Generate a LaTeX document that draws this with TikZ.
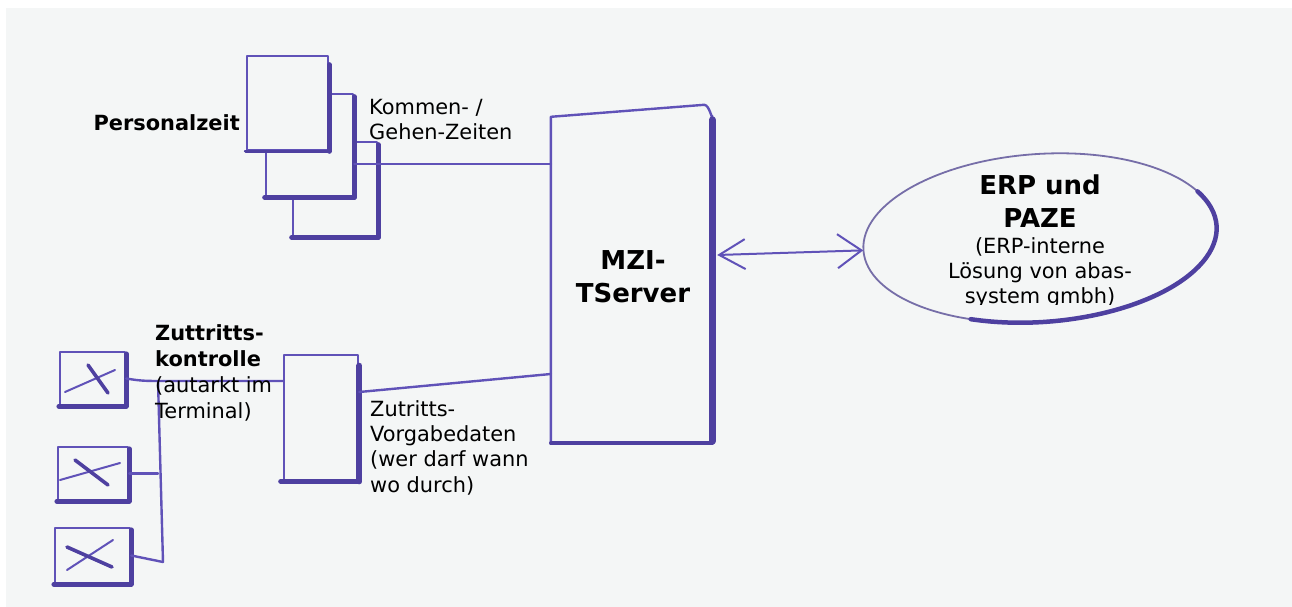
\documentclass[tikz,border=0pt]{standalone}
\usepackage{fontspec}
\setmainfont{DejaVu Sans}
\usetikzlibrary{arrows.meta,shapes.geometric}
\definecolor{paper}{RGB}{244,246,246}
\definecolor{pen}{RGB}{96,82,184}
\definecolor{pendark}{RGB}{78,64,160}
\definecolor{penlight}{RGB}{118,110,168}
\tikzset{
  thinpen/.style={draw=pen, line width=2.4pt, line cap=round, line join=round},
  thickpen/.style={draw=pendark, line width=5pt, line cap=round},
  boxnode/.style={draw=pen, line width=2.6pt, fill=paper, inner sep=0pt, line join=round},
  lbl/.style={inner sep=0pt, font=\fontsize{20.9}{25.4}\selectfont, align=left, text=black},
  bl/.style={inner sep=0pt, font=\fontsize{20.9}{26}\selectfont\bfseries, align=left, text=black},
  big/.style={inner sep=0pt, font=\fontsize{26}{33}\selectfont\bfseries, align=center, text=black},
  small/.style={inner sep=0pt, font=\fontsize{20.9}{25}\selectfont, align=center, text=black},
  cross/.style={draw=pendark, line width=3.6pt, line cap=round},
  xline/.style={draw=pen, line width=2pt, line cap=round},
}
\begin{document}
\begin{tikzpicture}[x=1pt,y=-1pt]
\useasboundingbox (0,0) rectangle (1292,607);
\fill[white] (0,0) rectangle (1292,607);
\fill[paper] (6,8) rectangle (1292,607);

% Personalzeit stack
\node[boxnode, minimum width=84, minimum height=94] (box3) at (335,189) {};
\draw[thickpen] ([shift={(0,4)}]box3.north east) -- (box3.south east);
\draw[thickpen] (box3.south west) -- (box3.south east);
\node[boxnode, minimum width=87, minimum height=102] (box2) at (309.5,145) {};
\draw[thickpen] ([shift={(0,4)}]box2.north east) -- (box2.south east);
\draw[thickpen] (box2.south west) -- (box2.south east);
\node[boxnode, minimum width=81, minimum height=94] (box1) at (287.5,103) {};
\draw[thickpen] ([shift={(0,10)}]box1.north east) -- (box1.south east);
\draw[thickpen, line width=3.6pt] (box1.south west) -- (box1.south east);

% server
\node[inner sep=0pt, minimum width=161, minimum height=335] (server) at (631.5,275.5) {};
\draw[thinpen, fill=paper] (server.south west) -- ([shift={(0,9)}]server.north west)
  -- ([shift={(-8,-3)}]server.north east) to[out=0,in=-90] ([shift={(0,8)}]server.north east)
  -- (server.south east) -- cycle;
\draw[thickpen, line width=7pt] ([shift={(0,12)}]server.north east) -- ([shift={(0,-2)}]server.south east);
\draw[thickpen, line width=3.6pt] (server.south west) -- (server.south east);

% access box
\node[boxnode, minimum width=74, minimum height=125] (zbox) at (321,417.5) {};
\draw[thickpen, line width=6pt] ([shift={(0,12)}]zbox.north east) -- (zbox.south east);
\draw[thickpen] ([shift={(-2,0)}]zbox.south west) -- (zbox.south east);

% terminals
\node[boxnode, minimum width=65, minimum height=53] (t1) at (92.5,378.5) {};
\node[boxnode, minimum width=70, minimum height=53] (t2) at (93,473.5) {};
\node[boxnode, minimum width=75, minimum height=55] (t3) at (92.5,555.5) {};
\foreach \t in {t1,t2,t3}{
  \draw[thickpen, line width=4.5pt] ([shift={(0,3)}]\t.north east) -- (\t.south east);
  \draw[thickpen, line width=4.5pt] (\t.south west) -- (\t.south east);
}
\draw[xline] ([shift={(-27.5,13.5)}]t1.center) -- ([shift={(22.5,-8.5)}]t1.center);
\draw[cross] ([shift={(-4.5,-13.5)}]t1.center) -- ([shift={(15.5,14.5)}]t1.center);
\draw[xline] ([shift={(-33,6.5)}]t2.center) -- ([shift={(27,-10.5)}]t2.center);
\draw[cross] ([shift={(-18,-13.5)}]t2.center) -- ([shift={(15,11.5)}]t2.center);
\draw[xline] ([shift={(-25.5,14.5)}]t3.center) -- ([shift={(20.5,-15.5)}]t3.center);
\draw[cross] ([shift={(-25.5,-8.5)}]t3.center) -- ([shift={(19.5,11.5)}]t3.center);

% ERP ellipse
\node[ellipse, inner sep=0pt, minimum width=354, minimum height=168, rotate=4] (erp) at (1040,238) {};
\begin{scope}[shift={(erp.center)}, rotate=4]
  \draw[draw=penlight, line width=1.8pt] (0,0) ellipse [x radius=177, y radius=84];
  \draw[thickpen, line width=4.5pt] (115:177 and 84) arc [start angle=115, end angle=-25, x radius=177, y radius=84];
\end{scope}

% connectors
\coordinate (p1) at (0,164);
\draw[thinpen] (box2.east |- p1) -- (server.west |- p1);
\coordinate (z1) at (0,392);
\coordinate (z2) at (0,374);
\draw[thinpen] (zbox.east |- z1) -- (server.west |- z2);
\coordinate (jt) at (158,381);
\coordinate (jb) at (163,562);
\draw[thinpen] (t1.east) to[out=-10,in=180] (jt) -- (zbox.west |- jt);
\draw[thinpen] (jt) -- (jb);
\draw[thinpen] (t2.east) -- (jt |- t2.east);
\draw[thinpen] (t3.east) -- (jb);
\coordinate (a1) at (0,255);
\draw[draw=pen, line width=2pt, {Straight Barb[length=26pt,width=30pt]}-{Straight Barb[length=24pt,width=34pt]}]
  ([shift={(5,0)}]server.east |- a1) -- (erp.west);

% labels (base anchor = baseline of last line)
\node[bl, anchor=base east] (lpz) at (240,130.5) {Personalzeit};
\node[lbl, anchor=base west] (lkg) at (369,139.4) {Kommen- /\\Gehen-Zeiten};
\node[bl, anchor=base west] (lzk) at (155,366.7) {Zuttritts-\\kontrolle};
\node[lbl, anchor=base west] (lat) at (155,418) {(autarkt im\\Terminal)};
\node[lbl, anchor=base west] (lzv) at (370,492.2) {Zutritts-\\Vorgabedaten\\(wer darf wann\\wo durch)};
\node[big, anchor=base] (lsrv) at (633,302) {MZI-\\TServer};
\node[big, anchor=base] (lerp) at (1040,227) {ERP und\\PAZE};
\begin{scope}
  \clip (850,150) rectangle (1230,304);
  \node[small, anchor=base] (lerps) at (1040,303) {(ERP-interne\\Lösung von abas-\\system gmbh)};
\end{scope}
\end{tikzpicture}
\end{document}
